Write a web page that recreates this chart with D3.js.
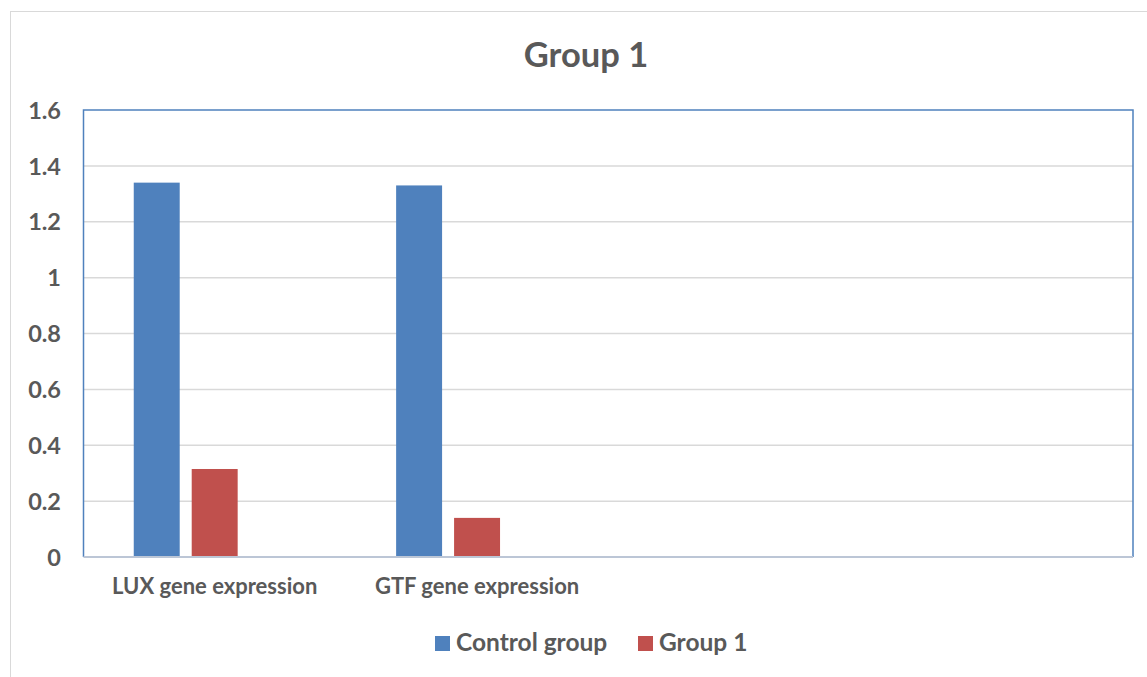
<!DOCTYPE html>
<html>
<head>
<meta charset="utf-8">
<script src="https://cdn.jsdelivr.net/npm/d3@7"></script>
<style>
  html, body { margin: 0; padding: 0; background: #fff; }
  svg text { font-family: Lato, "Open Sans", sans-serif; font-weight: bold; fill: #595959; }
</style>
</head>
<body>
<svg id="chart" width="1147" height="677"></svg>
<script>
// ---- data ----
const categories = ["LUX gene expression", "GTF gene expression", "", ""];
const seriesNames = ["Control group", "Group 1"];
const controlValues = [1.34, 1.33, null, null];
const group1Values = [0.315, 0.14, null, null];
const yTicks = [0, 0.2, 0.4, 0.6, 0.8, 1, 1.2, 1.4, 1.6];
const title = "Group 1";

const colors = ["#4f81bd", "#c0504d"];
const svg = d3.select("#chart");

// outer chart border
svg.append("rect").attr("x", 10.5).attr("y", 11.5).attr("width", 1150).attr("height", 700)
  .attr("fill", "#fff").attr("stroke", "#d9d9d9").attr("stroke-width", 1);

const plot = { left: 83.5, top: 110, right: 1133, bottom: 557 };

const y = d3.scaleLinear().domain([0, 1.6]).range([plot.bottom, plot.top]);
const x0 = d3.scaleBand().domain(d3.range(categories.length)).range([plot.left, plot.right]).padding(0);
// three slots per cluster (third slot is an empty series in the original)
const x1 = d3.scaleBand().domain([0, 1, 2]).range([0, x0.bandwidth()])
  .paddingInner(0.207).paddingOuter(0.867);

// gridlines
svg.append("g").selectAll("line").data(yTicks.filter(t => t > 0 && t < 1.6)).join("line")
  .attr("x1", plot.left).attr("x2", plot.right)
  .attr("y1", d => y(d)).attr("y2", d => y(d))
  .attr("stroke", "#d9d9d9").attr("stroke-width", 1.5);

// bars
const series = [controlValues, group1Values];
series.forEach((vals, si) => {
  svg.append("g").selectAll("rect")
    .data(vals.map((v, i) => ({ i, v })).filter(d => d.v != null))
    .join("rect")
    .attr("x", d => x0(d.i) + x1(si))
    .attr("width", x1.bandwidth())
    .attr("y", d => y(d.v))
    .attr("height", d => y(0) - y(d.v))
    .attr("fill", colors[si]);
});

// plot area border
svg.append("path")
  .attr("d", `M${plot.left},${plot.bottom}V${plot.top}H${plot.right}V${plot.bottom}`)
  .attr("fill", "none").attr("stroke", "#4f81bd").attr("stroke-width", 1.5);
// x axis line
svg.append("line").attr("x1", plot.left).attr("x2", plot.right)
  .attr("y1", plot.bottom).attr("y2", plot.bottom)
  .attr("stroke", "#bcc6d6").attr("stroke-width", 2);

// y axis labels
const yAxis = d3.axisLeft(y).tickValues(yTicks).tickSize(0).tickPadding(0)
  .tickFormat(d => d3.format("")(+d.toFixed(1)));
const yg = svg.append("g").attr("transform", `translate(61,0)`).call(yAxis);
yg.select(".domain").remove();
yg.selectAll("text").style("font-size", "23.5px").attr("dy", "0.35em").attr("fill", "#595959");

// x axis labels
const xAxis = d3.axisBottom(x0).tickSize(0).tickPadding(0).tickFormat(i => categories[i]);
const xg = svg.append("g").attr("transform", `translate(0,${plot.bottom})`).call(xAxis);
xg.select(".domain").remove();
xg.selectAll("text").style("font-size", "22px").attr("dy", null).attr("y", 37).attr("fill", "#595959");

// title
svg.append("text").attr("x", 586).attr("y", 67).attr("text-anchor", "middle")
  .style("font-size", "34.5px").text(title);

// legend
const legendItems = [{ name: seriesNames[0], x: 435 }, { name: seriesNames[1], x: 638 }];
const lg = svg.append("g");
legendItems.forEach((d, i) => {
  lg.append("rect").attr("x", d.x).attr("y", 636).attr("width", 15).attr("height", 15).attr("fill", colors[i]);
  lg.append("text").attr("x", d.x + 21).attr("y", 651).style("font-size", "24.5px").text(d.name);
});
</script>
</body>
</html>
